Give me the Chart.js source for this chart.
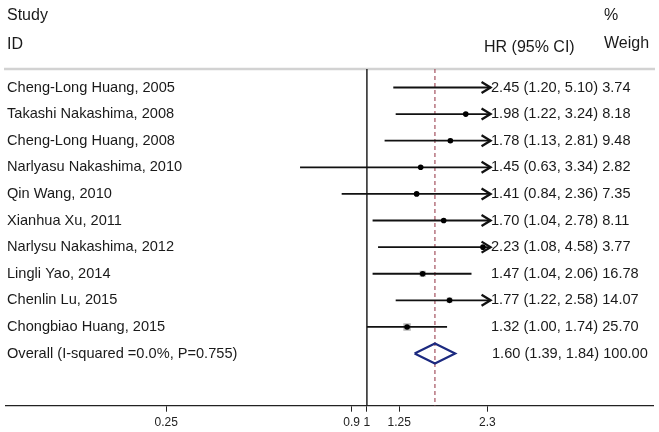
<!DOCTYPE html>
<html><head><meta charset="utf-8">
<script src="https://cdn.jsdelivr.net/npm/chart.js@4.4.1/dist/chart.umd.min.js"></script>
<style>html,body{margin:0;padding:0;background:#fff}#wrap{width:659px;height:432px;position:relative}</style>
</head><body><div id="wrap"><canvas id="c" width="659" height="432"></canvas></div>
<script>
// ---- data ----
const studies = ["Cheng-Long Huang, 2005","Takashi Nakashima, 2008","Cheng-Long Huang, 2008","Narlyasu Nakashima, 2010","Qin Wang, 2010","Xianhua Xu, 2011","Narlysu Nakashima, 2012","Lingli Yao, 2014","Chenlin Lu, 2015","Chongbiao Huang, 2015"];
const hr     = [2.45, 1.98, 1.78, 1.45, 1.41, 1.70, 2.23, 1.47, 1.77, 1.32];
const lower  = [1.20, 1.22, 1.13, 0.63, 0.84, 1.04, 1.08, 1.04, 1.22, 1.00];
const upper  = [5.10, 3.24, 2.81, 3.34, 2.36, 2.78, 4.58, 2.06, 2.58, 1.74];
const weights = [3.74, 8.18, 9.48, 2.82, 7.35, 8.11, 3.77, 16.78, 14.07, 25.70];
const overallLabel = "Overall (I-squared =0.0%, P=0.755)";
const overallHR = 1.60, overallLower = 1.39, overallUpper = 1.84, overallWeight = 100.00;
const tickValues = [0.25, 0.9, 1, 1.25, 2.3];
const tickLabels = ["0.25", "0.9", "1", "1.25", "2.3"];
const ciClip = 2.35;   // plot range end where CIs become arrows

// ---- styles / layout ----
const FONT = '"Liberation Sans", Arial, Helvetica, sans-serif';
const TXT = '#1a1a1a';
const xMin = 0.0822, xMax = 7.22;
const yMin = -0.695, yMax = 11.96;
const overallRow = studies.length;

const datasets = [];
datasets.push({data:[{x:1,y:yMin},{x:1,y:yMax}], showLine:true, borderColor:'#222', borderWidth:1.5, pointRadius:0, order:10});
datasets.push({data:[{x:overallHR,y:yMin},{x:overallHR,y:yMax}], showLine:true, borderColor:'#a3505e', borderWidth:1.2, borderDash:[4,3], pointRadius:0, order:9});
datasets.push({data: hr.map((v,i)=>({x:v,y:i})).filter(p=>p.x<=ciClip), pointStyle:'rect',
  pointRadius: hr.map((v,i)=>({v,w:weights[i]})).filter(p=>p.v<=ciClip).map(p=>7.5*Math.sqrt(p.w/25.7)/1.414),
  backgroundColor:'#b8b8b8', borderColor:'#b8b8b8', borderWidth:0, order:6});
studies.forEach((s,i)=>{
  datasets.push({data:[{x:lower[i],y:i},{x:Math.min(upper[i],ciClip),y:i}], showLine:true, borderColor:'#111', borderWidth:1.8, pointRadius:0, order:4});
});
datasets.push({data: hr.map((v,i)=>({x:v,y:i})).filter(p=>p.x<=ciClip), pointRadius:2.8, backgroundColor:'#000', borderColor:'#000', borderWidth:0, order:1});
const dh = 0.376;
datasets.push({data:[{x:overallLower,y:overallRow},{x:overallHR,y:overallRow-dh},{x:overallUpper,y:overallRow},{x:overallHR,y:overallRow+dh},{x:overallLower,y:overallRow}],
  showLine:true, borderColor:'#1c2a80', borderWidth:2.2, borderJoinStyle:'miter', pointRadius:0, order:2});

const textPlugin = {
  id:'forestText',
  beforeDatasetsDraw(chart){
    const ctx = chart.ctx, a = chart.chartArea;
    ctx.save();
    ctx.strokeStyle = '#d2d2d2'; ctx.lineWidth = 2.5;
    ctx.beginPath(); ctx.moveTo(4, a.top); ctx.lineTo(655, a.top); ctx.stroke();
    ctx.restore();
  },
  afterDraw(chart){
    const ctx = chart.ctx, xs = chart.scales.x, ys = chart.scales.y;
    ctx.save();
    ctx.strokeStyle = '#111'; ctx.lineWidth = 2.3; ctx.lineJoin = 'miter';
    upper.forEach((u,i)=>{
      if (u > ciClip) {
        const x = xs.getPixelForValue(ciClip), y = ys.getPixelForValue(i);
        ctx.beginPath(); ctx.moveTo(x-9,y-5.5); ctx.lineTo(x,y); ctx.lineTo(x-9,y+5.5); ctx.stroke();
      }
    });
    ctx.fillStyle = TXT; ctx.textBaseline = 'middle'; ctx.textAlign = 'left';
    ctx.font = '16px ' + FONT;
    ctx.fillText('Study', 7, 16);
    ctx.fillText('ID', 7, 45);
    ctx.fillText('HR (95% CI)', 484, 48);
    ctx.fillText('%', 604, 16);
    ctx.fillText('Weigh', 604, 44);
    ctx.font = '14.6px ' + FONT;
    studies.forEach((s,i)=>{
      const y = ys.getPixelForValue(i);
      ctx.fillText(s, 7, y);
      ctx.fillText(`${hr[i].toFixed(2)} (${lower[i].toFixed(2)}, ${upper[i].toFixed(2)}) ${weights[i].toFixed(2)}`, 491, y);
    });
    const yo = ys.getPixelForValue(overallRow);
    ctx.fillText(overallLabel, 7, yo);
    ctx.fillText(`${overallHR.toFixed(2)} (${overallLower.toFixed(2)}, ${overallUpper.toFixed(2)}) ${overallWeight.toFixed(2)}`, 492, yo);
    ctx.restore();
  }
};

new Chart(document.getElementById('c'), {
  type:'scatter',
  data:{datasets},
  options:{
    responsive:false, animation:false, devicePixelRatio:1,
    layout:{padding:{left:4, right:6, top:69, bottom:0}},
    plugins:{legend:{display:false}, tooltip:{enabled:false}},
    scales:{
      x:{type:'logarithmic', min:xMin, max:xMax,
        afterBuildTicks(s){ s.ticks = tickValues.map(v=>({value:v})); },
        afterFit(s){ s.height = 26.3; },
        ticks:{autoSkip:false, maxRotation:0, padding:4, color:'#222', font:{family:FONT, size:12},
          callback(v){ const k = tickValues.indexOf(v); return k>=0 ? tickLabels[k] : ''; }},
        grid:{drawOnChartArea:false, drawTicks:true, tickLength:6, color:'#222', lineWidth:1},
        border:{display:true, color:'#222', width:1.3}
      },
      y:{type:'linear', reverse:true, min:yMin, max:yMax, display:false}
    }
  },
  plugins:[textPlugin]
});
</script></body></html>
